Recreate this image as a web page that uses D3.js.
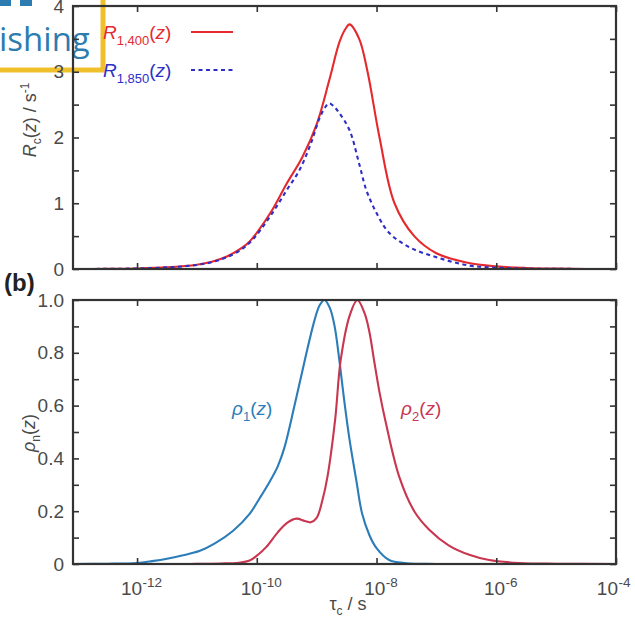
<!DOCTYPE html>
<html><head><meta charset="utf-8">
<script src="https://cdn.jsdelivr.net/npm/d3@7"></script>
<style>
body{margin:0;background:#fff;}
svg{display:block;font-family:"Liberation Sans",Arial,sans-serif;}
</style></head>
<body><svg id="c" width="635" height="624"></svg>
<script>
// ---- data (log10 of tau_c in seconds, and values) ----
const xTickExps = [-12, -10, -8, -6, -4];
const topYTicks = [0, 0.5, 1, 1.5, 2, 2.5, 3, 3.5, 4];
const topYLabels = ["0", "", "1", "", "2", "", "3", "", "4"];
const botYTicks = [0, 0.1, 0.2, 0.3, 0.4, 0.5, 0.6, 0.7, 0.8, 0.9, 1.0];
const botYLabels = ["0", "", "0.2", "", "0.4", "", "0.6", "", "0.8", "", "1.0"];

const r1400LogTau = [-13.07,-12.5,-12,-11.5,-11,-10.75,-10.5,-10.25,-10.12,-10,-9.74,-9.5,-9.24,-9,-8.79,-8.62,-8.52,-8.45,-8.29,-8.15,-7.95,-7.7,-7.37,-7,-6.5,-6,-5.5,-5,-4.5,-4];
const r1400 = [0,0.002,0.008,0.025,0.065,0.11,0.19,0.32,0.42,0.55,0.9,1.3,1.7,2.2,2.87,3.45,3.65,3.72,3.5,3.0,2.0,1.0,0.5,0.24,0.1,0.04,0.015,0.005,0.001,0];

const r1850LogTau = [-13.07,-12.5,-12,-11.5,-11,-10.75,-10.5,-10.25,-10.12,-10,-9.74,-9.5,-9.29,-9.1,-8.95,-8.85,-8.79,-8.72,-8.62,-8.45,-8.29,-8.17,-8.0,-7.79,-7.45,-7,-6.5,-6,-5.5,-5,-4];
const r1850 = [0,0.002,0.008,0.024,0.062,0.105,0.18,0.3,0.4,0.52,0.85,1.2,1.5,1.9,2.3,2.47,2.52,2.48,2.37,2.11,1.6,1.2,0.85,0.55,0.33,0.18,0.06,0.02,0.006,0.002,0];

const rho1LogTau = [-13.07,-12.5,-12,-11.75,-11.5,-11.25,-10.95,-10.7,-10.4,-10.12,-9.95,-9.79,-9.65,-9.54,-9.37,-9.2,-9.04,-8.95,-8.87,-8.78,-8.7,-8.62,-8.54,-8.45,-8.34,-8.24,-8.12,-8.0,-7.79,-7.5,-7,-4];
const rho1 = [0,0.001,0.004,0.011,0.02,0.032,0.05,0.078,0.125,0.19,0.25,0.31,0.37,0.44,0.6,0.77,0.92,0.98,1.0,0.97,0.9,0.77,0.62,0.47,0.32,0.19,0.11,0.06,0.015,0.003,0,0];

const rho2LogTau = [-13.07,-11.5,-11,-10.6,-10.3,-10.12,-9.98,-9.84,-9.65,-9.5,-9.34,-9.2,-9.1,-9.0,-8.9,-8.82,-8.69,-8.6,-8.45,-8.32,-8.2,-8.12,-8.04,-7.95,-7.84,-7.62,-7.37,-7.12,-6.79,-6.45,-6.12,-5.62,-5,-4];
const rho2 = [0,0,0.0005,0.002,0.005,0.013,0.035,0.065,0.12,0.155,0.172,0.163,0.158,0.175,0.245,0.33,0.55,0.77,0.94,1.0,0.95,0.88,0.77,0.65,0.53,0.33,0.2,0.13,0.07,0.035,0.015,0.004,0.001,0];

// ---- layout ----
const L = 73, R = 616;
const topP = {t: 6, b: 269};
const botP = {t: 300, b: 564};
const svg = d3.select("#c");
svg.append("rect").attr("width",635).attr("height",624).attr("fill","#fff");

// publisher badge (cropped, sits under the chart)
svg.append("rect").attr("x",-6).attr("y",-6).attr("width",109).attr("height",76).attr("fill","#fff")
  .attr("stroke","#f0c02c").attr("stroke-width",5);
svg.append("rect").attr("x",0).attr("y",0).attr("width",11).attr("height",6).attr("fill","#2d7cb0");
svg.append("rect").attr("x",20).attr("y",0).attr("width",12).attr("height",6).attr("fill","#2d7cb0");
svg.append("text").attr("x",-1).attr("y",51).attr("font-family","'Open Sans',sans-serif").attr("font-size",33)
  .attr("fill","#2d7cb0").text("ishing");

const x = d3.scaleLog().domain([Math.pow(10,-13.07), 1e-4]).range([L, R]);
const yTop = d3.scaleLinear().domain([0,4]).range([topP.b, topP.t]);
const yBot = d3.scaleLinear().domain([0,1]).range([botP.b, botP.t]);

const tickCol = "#333", labCol = "#4a4a4a";

function styleAxis(g){
  g.select(".domain").remove();
  g.selectAll(".tick line").attr("stroke", tickCol).attr("stroke-width", 1.6);
  g.selectAll(".tick text").attr("fill", labCol).attr("font-size", 19);
}
function xAxes(p, withLabels){
  const gb = svg.append("g").attr("transform",`translate(0,${p.b})`)
    .call(d3.axisBottom(x).tickValues(xTickExps.map(e=>Math.pow(10,e))).tickSizeInner(-6).tickSizeOuter(0).tickPadding(13).tickFormat(()=>""));
  styleAxis(gb);
  if (withLabels){
    gb.selectAll(".tick text").each(function(d,i){
      const last = i === xTickExps.length - 1;
      const t = d3.select(this).text(null).attr("dy","0.95em")
        .attr("text-anchor", last ? "end" : "middle").attr("x", last ? 14 : 4);
      t.append("tspan").text("10");
      t.append("tspan").attr("font-size",13.5).attr("dy","-0.6em").attr("dx","0.5").text(String(xTickExps[i]));
    });
  } else gb.selectAll(".tick text").remove();
  const gt = svg.append("g").attr("transform",`translate(0,${p.t})`)
    .call(d3.axisTop(x).tickValues(xTickExps.map(e=>Math.pow(10,e))).tickSizeInner(-6).tickSizeOuter(0).tickFormat(()=>""));
  styleAxis(gt); gt.selectAll(".tick text").remove();
}
function yAxes(y, vals, labs){
  const gl = svg.append("g").attr("transform",`translate(${L},0)`)
    .call(d3.axisLeft(y).tickValues(vals).tickSizeInner(-6).tickSizeOuter(0).tickPadding(9).tickFormat((d,i)=>labs[i]));
  styleAxis(gl);
  gl.selectAll(".tick text").filter(d => d === 4).attr("dy","0.36em");
  const gr = svg.append("g").attr("transform",`translate(${R},0)`)
    .call(d3.axisRight(y).tickValues(vals).tickSizeInner(-6).tickSizeOuter(0).tickFormat(()=>""));
  styleAxis(gr); gr.selectAll(".tick text").remove();
}

// clip
const defs = svg.append("defs");
defs.append("clipPath").attr("id","cpT").append("rect").attr("x",L).attr("y",topP.t).attr("width",R-L).attr("height",topP.b-topP.t);
defs.append("clipPath").attr("id","cpB").append("rect").attr("x",L).attr("y",botP.t-3).attr("width",R-L).attr("height",botP.b-botP.t+3);

function curve(xs, ys, y, color, clip, dash){
  const pts = xs.map((e,i)=>[x(Math.pow(10,e)), y(ys[i])]);
  svg.append("path").attr("d", d3.line().curve(d3.curveCatmullRom.alpha(0.5))(pts))
    .attr("clip-path",`url(#${clip})`)
    .attr("fill","none").attr("stroke",color).attr("stroke-width",2.1)
    .attr("stroke-dasharray", dash || null);
}

const redTop = "#e52a2e", blueTop = "#2e2ec8";
const blueBot = "#2a7db8", redBot = "#c8364f";
curve(r1400LogTau, r1400, yTop, redTop, "cpT");
curve(r1850LogTau, r1850, yTop, blueTop, "cpT", "4,3.5");
curve(rho1LogTau, rho1, yBot, blueBot, "cpB");
curve(rho2LogTau, rho2, yBot, redBot, "cpB");

// axes
xAxes(topP, false);
xAxes(botP, true);
yAxes(yTop, topYTicks, topYLabels);
yAxes(yBot, botYTicks, botYLabels);

// frames
[topP, botP].forEach(p=>{
  svg.append("rect").attr("x",L).attr("y",p.t).attr("width",R-L).attr("height",p.b-p.t)
    .attr("fill","none").attr("stroke","#333").attr("stroke-width",2.2);
});

// legend
function legendEntry(y0, sub, color, dash){
  const t = svg.append("text").attr("x",103).attr("y",y0).attr("fill",color).attr("font-size",19);
  t.append("tspan").attr("font-style","italic").text("R");
  t.append("tspan").attr("font-size",13).attr("dy",6).text(sub);
  t.append("tspan").attr("dy",-6).text("(");
  t.append("tspan").attr("font-style","italic").text("z");
  t.append("tspan").text(")");
  svg.append("line").attr("x1",191).attr("x2",233).attr("y1",y0-7).attr("y2",y0-7)
    .attr("stroke",color).attr("stroke-width",2.2).attr("stroke-dasharray",dash||null);
}
legendEntry(39, "1,400", redTop);
legendEntry(77, "1,850", blueTop, "4,3.5");

// curve labels bottom
function rhoLabel(xp, yp, n, color){
  const t = svg.append("text").attr("x",xp).attr("y",yp).attr("fill",color).attr("font-size",19);
  t.append("tspan").attr("font-style","italic").text("ρ");
  t.append("tspan").attr("font-size",13).attr("dy",6).text(n);
  t.append("tspan").attr("dy",-6).text("(");
  t.append("tspan").attr("font-style","italic").text("z");
  t.append("tspan").text(")");
}
rhoLabel(232, 415, "1", blueBot);
rhoLabel(401, 415, "2", redBot);

// axis titles
const yt1 = svg.append("text").attr("transform","translate(36,120) rotate(-90)").attr("text-anchor","middle")
  .attr("fill","#4a4a4a").attr("font-size",18);
yt1.append("tspan").attr("font-style","italic").text("R");
yt1.append("tspan").attr("font-size",12).attr("dy",5).text("c");
yt1.append("tspan").attr("dy",-5).text("(");
yt1.append("tspan").attr("font-style","italic").text("z");
yt1.append("tspan").text(") / s");
yt1.append("tspan").attr("font-size",12).attr("dy",-7).text("-1");

const yt2 = svg.append("text").attr("transform","translate(35,433) rotate(-90)").attr("text-anchor","middle")
  .attr("fill","#4a4a4a").attr("font-size",18);
yt2.append("tspan").attr("font-style","italic").text("ρ");
yt2.append("tspan").attr("font-size",12).attr("dy",5).text("n");
yt2.append("tspan").attr("dy",-5).text("(");
yt2.append("tspan").attr("font-style","italic").text("z");
yt2.append("tspan").text(")");

const xt = svg.append("text").attr("x",348).attr("y",610).attr("text-anchor","middle").attr("fill","#4a4a4a").attr("font-size",18);
xt.append("tspan").text("τ");
xt.append("tspan").attr("font-size",12).attr("dy",5).text("c");
xt.append("tspan").attr("dy",-5).text(" / s");

svg.append("text").attr("x",4).attr("y",291).attr("font-size",24).attr("font-weight","bold").attr("fill","#222").text("(b)");
</script></body></html>
